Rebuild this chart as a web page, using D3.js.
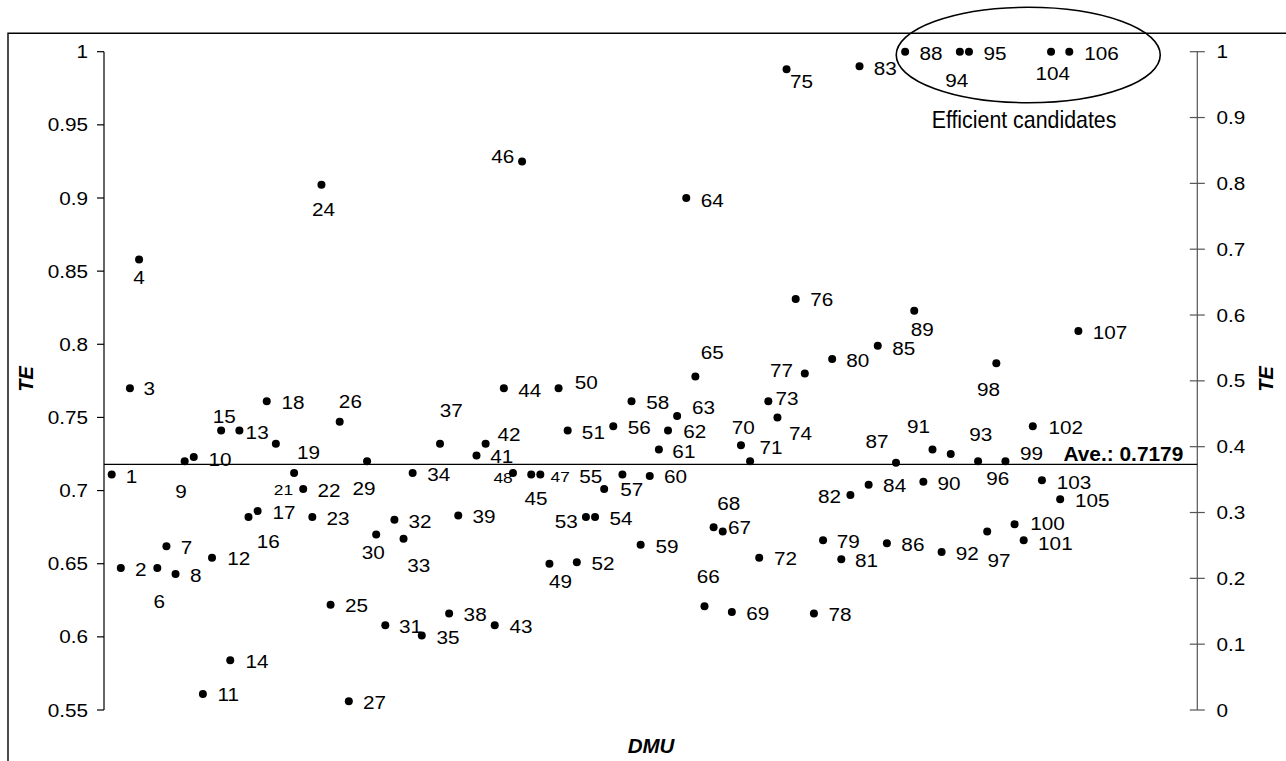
<!DOCTYPE html>
<html>
<head>
<meta charset="utf-8">
<script src="https://cdn.jsdelivr.net/npm/d3@7"></script>
<style>
  html, body { margin: 0; padding: 0; background: #fff; }
  svg { display: block; }
  text { font-family: "Liberation Sans", Arial, Helvetica, sans-serif; fill: #000; }
</style>
</head>
<body>
<script>
// ---------------- DATA ----------------
// TE score per DMU (index 0 -> DMU 1). null = not plotted in the reference.
const teValues = [
  0.711, 0.647, 0.770, 0.858, null, 0.647, 0.662, 0.643, 0.720, 0.723,
  0.561, 0.654, 0.741, 0.584, 0.741, 0.682, 0.686, 0.761, 0.732, null,
  0.712, 0.701, 0.682, 0.909, 0.622, 0.747, 0.556, null, 0.720, 0.670,
  0.608, 0.680, 0.667, 0.712, 0.601, null, 0.732, 0.616, 0.683, null,
  0.724, 0.732, 0.608, 0.770, 0.712, 0.925, 0.711, 0.711, 0.650, 0.770,
  0.741, 0.651, 0.682, 0.682, 0.701, 0.744, 0.711, 0.761, 0.663, 0.710,
  0.728, 0.741, 0.751, 0.900, 0.778, 0.621, 0.675, 0.672, 0.617, 0.731,
  0.720, 0.654, 0.761, 0.750, 0.988, 0.831, 0.780, 0.616, 0.666, 0.790,
  0.653, 0.697, 0.990, 0.704, 0.799, 0.664, 0.719, 1.000, 0.823, 0.706,
  0.728, 0.658, 0.725, 1.000, 1.000, 0.720, 0.672, 0.787, 0.720, 0.677,
  0.666, 0.744, 0.707, 1.000, 0.694, 1.000, 0.809
];
const dmuLabels = teValues.map((v, i) => String(i + 1));
const average = 0.7179;
const leftTicks = [0.55, 0.6, 0.65, 0.7, 0.75, 0.8, 0.85, 0.9, 0.95, 1];
const leftTickLabels = ["0.55", "0.6", "0.65", "0.7", "0.75", "0.8", "0.85", "0.9", "0.95", "1"];
const rightTicks = [0, 0.1, 0.2, 0.3, 0.4, 0.5, 0.6, 0.7, 0.8, 0.9, 1];
const rightTickLabels = ["0", "0.1", "0.2", "0.3", "0.4", "0.5", "0.6", "0.7", "0.8", "0.9", "1"];
const efficientLabel = "Efficient candidates";
const avgLabel = "Ave.: 0.7179";

// ---------------- LAYOUT (label placement, px offsets from each dot) ----------------
const labelOffsets = [
  [19.7,1.7],[20,1],[19.3,0],[0,17.7],null,[2,33],[20,1],[20.3,1],[-3.7,30],[26.3,2],
  [25.3,0.7],[26.7,1],[36,1.3],[26.7,0.7],[-15,-14],[19.7,24.7],[26.3,1],[26.3,1.3],[32.7,8.7],null,
  [-10.7,16],[25.7,1.3],[25.7,1.3],[2,24.3],[26,1],[10.7,-20.7],[25.7,0.7],null,[-3,27],[-3,18],
  [25.3,1],[25.7,1.7],[15.3,26.7],[26,1.7],[26.3,1.7],null,[11.3,-33],[26,1],[25.7,0.7],null,
  [25.3,1],[23.3,-9.7],[26.3,1],[26,1.7],[23,25.7],[-19.3,-5.3],[29,2.3],[-37.3,3.3],[11,17.3],[27.7,-5.7],
  [25.7,1.3],[26.3,1],[-19.7,4],[26,1.7],[-13.3,-13],[26,1.3],[9.3,14.7],[26.3,1.3],[26.3,1.7],[25.7,0.7],
  [25,1.3],[26.7,0.3],[26.3,-8.3],[26,2],[17,-24.3],[3.7,-30],[26,0.7],[6,-27.7],[26,1],[2.3,-18.3],
  [21,-14],[26.3,0.7],[18.7,-2.7],[23,16],[15,12.3],[26,0.7],[-23.3,-3.3],[26,1],[25.3,1.3],[25.7,1],
  [25.3,1],[-21,1.7],[25.7,1.7],[26,1],[26,2.3],[26,1.3],[-19,-21.7],[26,1.7],[8,19],[25.7,1.7],
  [-14,-23],[25.7,1.3],[30,-19.7],[-3,28.3],[26,1.7],[19.7,17],[11.7,29],[-7.7,25.7],[26,-8.3],[33,-0.8],
  [31.7,3.2],[33,0.7],[32,1.7],[1.7,21.7],[32,1],[32.3,1.7],[31.7,1.7]
];
const smallLabelIdx = [20, 46, 47]; // DMU 21, 47, 48 drawn in smaller type

// ---------------- DRAW ----------------
const W = 1286, H = 761;
const svg = d3.select("body").append("svg").attr("width", W).attr("height", H);

const x = d3.scaleLinear().domain([1, teValues.length]).range([111.7, 1078.4]);
const y = d3.scaleLinear().domain([0.55, 1]).range([710, 51.7]);
const yR = d3.scaleLinear().domain([0, 1]).range([710, 51.7]);
const axisLeftX = 104, axisRightX = 1197.3;

const FS = 18.5, SX = 1.12;
function txt(g, px, py, str, o = {}) {
  const fs = o.fs || FS;
  return g.append("text")
    .attr("transform", `translate(${px},${py}) scale(${o.sx || SX},1)` + (o.rot ? ` rotate(${o.rot})` : ""))
    .attr("text-anchor", o.anchor || "middle")
    .attr("dy", o.dy !== undefined ? o.dy : (0.358 * fs))
    .style("font-size", fs + "px")
    .style("font-weight", o.weight || "normal")
    .style("font-style", o.style || "normal")
    .text(str);
}

// outer frame (top & left edges)
svg.append("path").attr("d", `M8,${H} V33.3 H${W}`).attr("fill", "none")
  .attr("stroke", "#000").attr("stroke-width", 1.4);

// left axis
const gL = svg.append("g");
gL.append("line").attr("x1", axisLeftX).attr("x2", axisLeftX)
  .attr("y1", y(0.55)).attr("y2", y(1)).attr("stroke", "#000").attr("stroke-width", 1.2);
leftTicks.forEach((t, i) => {
  gL.append("line").attr("x1", axisLeftX - 7).attr("x2", axisLeftX)
    .attr("y1", y(t)).attr("y2", y(t)).attr("stroke", "#000").attr("stroke-width", 1.2);
  txt(gL, 88, y(t), leftTickLabels[i], { anchor: "end" });
});

// right axis
const gR = svg.append("g");
gR.append("line").attr("x1", axisRightX).attr("x2", axisRightX)
  .attr("y1", yR(0)).attr("y2", yR(1)).attr("stroke", "#555").attr("stroke-width", 1.2);
rightTicks.forEach((t, i) => {
  gR.append("line").attr("x1", axisRightX - 7.5).attr("x2", axisRightX + 7.5)
    .attr("y1", yR(t)).attr("y2", yR(t)).attr("stroke", "#555").attr("stroke-width", 1.2);
  txt(gR, 1216.5, yR(t), rightTickLabels[i], { anchor: "start" });
});

// axis titles
txt(svg, 26, 379, "TE", { fs: 20, sx: 1, weight: "bold", style: "italic", rot: -90 });
txt(svg, 1265.5, 379, "TE", { fs: 20, sx: 1, weight: "bold", style: "italic", rot: -90 });
txt(svg, 651, 753, "DMU", { fs: 20.5, sx: 1, weight: "bold", style: "italic", dy: 0 });

// average line
svg.append("line").attr("x1", axisLeftX).attr("x2", axisRightX)
  .attr("y1", y(average)).attr("y2", y(average)).attr("stroke", "#000").attr("stroke-width", 1.3);
txt(svg, 1183.3, 460.7, avgLabel, { fs: 19.5, sx: 1.07, weight: "bold", anchor: "end", dy: 0 });

// points
const pts = teValues.map((v, i) => ({ i, v, label: dmuLabels[i], off: labelOffsets[i] }))
  .filter(d => d.v !== null);
const gP = svg.append("g");
gP.selectAll("circle").data(pts).join("circle")
  .attr("cx", d => x(d.i + 1)).attr("cy", d => y(d.v)).attr("r", 4).attr("fill", "#000");
pts.forEach(d => {
  const small = smallLabelIdx.includes(d.i);
  txt(gP, x(d.i + 1) + d.off[0], y(d.v) + d.off[1], d.label, { fs: small ? 15.5 : FS });
});

// efficient candidates ellipse + note
svg.append("ellipse").attr("cx", x(101.5)).attr("cy", y(1) + 3.3)
  .attr("rx", 132).attr("ry", 47.7)
  .attr("fill", "none").attr("stroke", "#000").attr("stroke-width", 1.6);
txt(svg, 1024, 128.3, efficientLabel, { fs: 24, sx: 0.89, dy: 0 });
</script>
</body>
</html>
